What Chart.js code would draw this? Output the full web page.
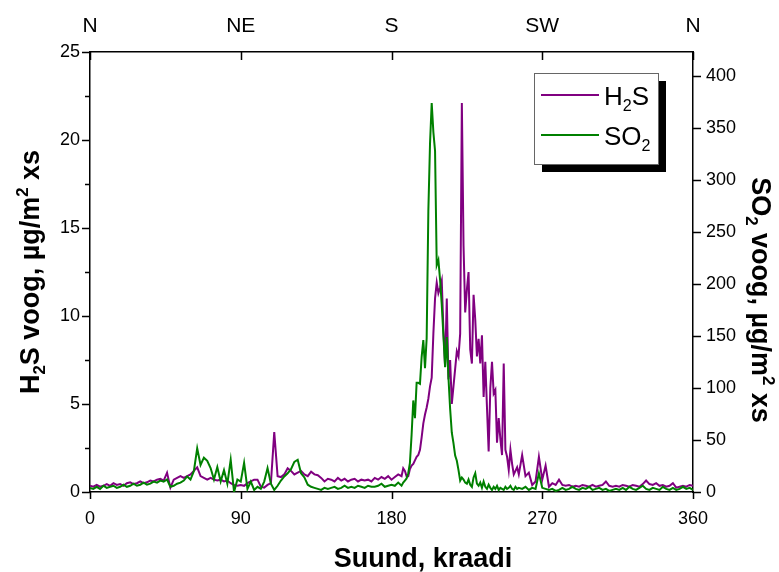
<!DOCTYPE html>
<html>
<head>
<meta charset="utf-8">
<script src="https://cdn.jsdelivr.net/npm/chart.js@4.4.1/dist/chart.umd.min.js"></script>
<style>
  html, body { margin: 0; padding: 0; background: #fff; }
  #wrap { width: 779px; height: 572px; }
</style>
</head>
<body>
<div id="wrap"><canvas id="chart" width="779" height="572"></canvas></div>
<script>
// wind direction, degrees (finer step around the peak)
const angles = [
  0, 2, 4, 6, 8, 10, 12, 14, 16, 18, 20, 22, 24, 26, 28, 30, 32, 34, 36, 38,
  40, 42, 44, 46, 48, 50, 52, 54, 56, 58, 60, 62, 64, 66, 68, 70, 72, 74, 76, 78,
  80, 82, 84, 86, 88, 90, 92, 94, 96, 98, 100, 102, 104, 106, 108, 110, 112, 114, 116, 118,
  120, 122, 124, 126, 128, 130, 132, 134, 136, 138, 140, 142, 144, 146, 148, 150, 152, 154, 156, 158,
  160, 162, 164, 166, 168, 170, 172, 174, 176, 178, 180, 182, 184,
  186, 187, 188, 189, 190, 191, 192, 193, 194, 195, 196, 197, 198, 199, 200, 201, 202, 203, 204, 205,
  206, 207, 208, 209, 210, 211, 212, 213, 214, 215, 216, 217, 218, 219, 220, 221, 222, 223, 224, 225,
  226, 227, 228, 229, 230, 231, 232, 233, 234, 235, 236, 237, 238, 239, 240, 241, 242, 243, 244, 245,
  246, 247, 248, 249, 250, 251, 252, 253, 254, 255, 256,
  258, 260, 262, 264, 266, 268, 270, 272, 274, 276, 278, 280, 282, 284, 286, 288, 290, 292, 294, 296,
  298, 300, 302, 304, 306, 308, 310, 312, 314, 316, 318, 320, 322, 324, 326, 328, 330, 332, 334, 336,
  338, 340, 342, 344, 346, 348, 350, 352, 354, 356, 358, 360
];

// H2S flux, ug/m2 s (left axis)
const h2sValues = [
  0.35, 0.3, 0.4, 0.3, 0.35, 0.45, 0.35, 0.5, 0.4, 0.45, 0.35, 0.5, 0.55, 0.45, 0.5, 0.6, 0.5, 0.55, 0.65, 0.6,
  0.7, 0.75, 0.65, 1.1, 0.25, 0.7, 0.8, 0.9, 0.8, 0.9, 1.0, 1.2, 1.4, 0.9, 0.8, 0.7, 0.8, 0.7, 0.65, 0.7,
  0.6, 0.65, 0.5, 0.4, 0.35, 0.4, 0.35, 0.5, 0.6, 0.7, 0.7, 0.3, 0.25, 0.4, 0.5, 3.4, 0.9, 0.85, 1.0, 1.35,
  1.2, 1.0, 1.1, 1.2, 1.0, 0.9, 1.15, 1.0, 0.95, 0.8, 0.6, 0.75, 0.7, 0.6, 0.8, 0.65, 0.75, 0.6, 0.7, 0.75,
  0.6, 0.7, 0.65, 0.7, 0.6, 0.8, 0.7, 0.85, 0.75, 0.9, 0.7, 0.85, 1.0,
  0.9, 1.35, 1.2, 0.9, 0.9, 1.3, 1.5, 1.6, 1.8, 2.0, 2.1, 2.4, 3.1, 3.9, 4.4, 4.8, 5.3, 6.0, 6.5, 9.0,
  11.0, 11.9, 11.3, 11.6, 12.0, 9.2, 7.1, 11.0, 6.4, 7.5, 5.0, 6.0, 7.0, 8.0, 7.7, 9.0, 22.1, 14.0, 10.2, 11.5,
  12.5, 8.1, 7.3, 11.2, 9.8, 7.7, 8.7, 7.3, 8.9, 5.4, 7.4, 4.8, 2.3, 5.9, 7.4, 5.6, 5.8, 2.8, 4.2, 3.0,
  2.1, 7.3, 2.4, 2.0, 1.25, 2.4, 1.6, 1.0, 1.2, 1.4, 1.0,
  2.1, 0.9, 1.1, 0.4, 0.6, 2.0, 0.7, 1.5, 0.3, 0.5, 0.4, 0.7, 0.4, 0.35, 0.4, 0.3, 0.35, 0.3, 0.4, 0.35,
  0.3, 0.4, 0.3, 0.35, 0.4, 0.6, 0.35, 0.3, 0.35, 0.3, 0.4, 0.35, 0.3, 0.4, 0.35, 0.3, 0.45, 0.65, 0.45, 0.4,
  0.5, 0.35, 0.4, 0.3, 0.35, 0.5, 0.25, 0.3, 0.35, 0.3, 0.4, 0.35
];

// SO2 flux, ug/m2 s (right axis)
const so2Values = [
  4, 3, 5, 3, 6, 4, 5, 6, 4, 5, 7, 5, 6, 8, 6, 7, 9, 7, 8, 10,
  9, 11, 10, 12, 5, 6, 8, 9, 11, 15, 12, 20, 42, 26, 33, 30, 23, 12, 24, 10,
  21, 8, 31, 0, 12, 10, 28, 3, 10, 2, 5, 3, 10, 23, 8, 2, 6, 11, 15, 18,
  22, 29, 31, 18, 14, 7, 5, 4, 3, 2, 4, 3, 4, 5, 3, 4, 6, 4, 5, 4,
  6, 5, 4, 6, 5, 5, 6, 8, 5, 6, 7, 6, 9,
  6, 9, 11, 13, 18, 28, 55, 88, 71, 105, 105, 104, 130, 146, 119, 148, 270, 335, 374, 346,
  328, 218, 223, 204, 180, 150, 120, 149, 110, 80, 57, 47, 35, 30, 21, 11, 14, 12, 9, 8,
  12, 7, 5, 14, 18, 8, 6, 9, 4, 10, 5, 3, 7, 4, 2, 5, 3, 6, 2, 4,
  3, 2, 5, 3, 4, 6, 3, 2, 5, 3, 4,
  3, 5, 2, 4, 3, 18, 4, 3, 2, 3, 1, 2, 4, 2, 3, 5, 3, 2, 4, 3,
  5, 2, 3, 4, 2, 3, 1, 2, 3, 2, 4, 2, 5, 3, 2, 4, 6, 3, 2, 4,
  3, 2, 5, 3, 2, 4, 2, 3, 5, 3, 4, 2
];

const angleTicks = [0, 90, 180, 270, 360];
const directionLabels = ['N', 'NE', 'S', 'SW', 'N'];
const h2sTicks = [0, 5, 10, 15, 20, 25];
const so2Ticks = [0, 50, 100, 150, 200, 250, 300, 350, 400];

const FONT = "'Liberation Sans', Arial, sans-serif";
const PURPLE = '#800080';
const GREEN = '#008000';

// draw text pieces with sub/superscripts, left to right starting at x
function richWidth(ctx, parts, size, weight) {
  let w = 0;
  parts.forEach(p => {
    const s = p.sub || p.sup ? size * 0.62 : size;
    ctx.font = `${weight} ${s}px ${FONT}`;
    w += ctx.measureText(p.t).width;
  });
  return w;
}
function drawRich(ctx, parts, x, y, size, weight) {
  parts.forEach(p => {
    const s = p.sub || p.sup ? size * 0.62 : size;
    ctx.font = `${weight} ${s}px ${FONT}`;
    let dy = 0;
    if (p.sub) dy = size * 0.22;
    if (p.sup) dy = -size * 0.4;
    ctx.fillText(p.t, x, y + dy);
    x += ctx.measureText(p.t).width;
  });
}

const decorPlugin = {
  id: 'decor',
  afterDraw(chart) {
    const ctx = chart.ctx;
    const area = chart.chartArea;
    const sx = chart.scales.x, sy = chart.scales.y, sy2 = chart.scales.y2;
    ctx.save();
    ctx.strokeStyle = '#000';
    ctx.lineWidth = 1.5;
    ctx.beginPath();
    angleTicks.forEach(v => {
      const px = Math.round(sx.getPixelForValue(v)) + 0.5;
      ctx.moveTo(px, area.bottom); ctx.lineTo(px, area.bottom + 7);
      ctx.moveTo(px, area.top); ctx.lineTo(px, area.top + 8);
    });
    for (let v = 0; v <= 25; v += 2.5) {
      const py = Math.round(sy.getPixelForValue(v)) + 0.5;
      const len = v % 5 === 0 ? 8 : 5;
      ctx.moveTo(area.left, py); ctx.lineTo(area.left - len, py);
    }
    so2Ticks.forEach(v => {
      const py = Math.round(sy2.getPixelForValue(v)) + 0.5;
      ctx.moveTo(area.right, py); ctx.lineTo(area.right + 8, py);
    });
    ctx.stroke();

    ctx.fillStyle = '#000';
    ctx.textBaseline = 'alphabetic';

    // bottom title
    ctx.font = `bold 27px ${FONT}`;
    ctx.textAlign = 'center';
    ctx.fillText('Suund, kraadi', 423, 567);
    ctx.textAlign = 'left';

    // left title
    const leftParts = [{t: 'H'}, {t: '2', sub: true}, {t: 'S voog, \u00b5g/m'}, {t: '2', sup: true}, {t: ' xs'}];
    ctx.save();
    ctx.translate(39, 272);
    ctx.rotate(-Math.PI / 2);
    drawRich(ctx, leftParts, -richWidth(ctx, leftParts, 27, 'bold') / 2, 0, 27, 'bold');
    ctx.restore();

    // right title
    const rightParts = [{t: 'SO'}, {t: '2', sub: true}, {t: ' voog, \u00b5g/m'}, {t: '2', sup: true}, {t: ' xs'}];
    ctx.save();
    ctx.translate(752, 300);
    ctx.rotate(Math.PI / 2);
    drawRich(ctx, rightParts, -richWidth(ctx, rightParts, 27, 'bold') / 2, 0, 27, 'bold');
    ctx.restore();

    // legend with drop shadow
    const bx = 534, by = 73, bw = 124, bh = 91;
    ctx.fillStyle = '#000';
    ctx.fillRect(bx + 8, by + 8, bw, bh);
    ctx.fillStyle = '#fff';
    ctx.fillRect(bx, by, bw, bh);
    ctx.strokeStyle = '#666';
    ctx.lineWidth = 1;
    ctx.strokeRect(bx + 0.5, by + 0.5, bw, bh);
    const rows = [
      {color: PURPLE, y: 95, parts: [{t: 'H'}, {t: '2', sub: true}, {t: 'S'}]},
      {color: GREEN, y: 135, parts: [{t: 'SO'}, {t: '2', sub: true}]}
    ];
    rows.forEach(r => {
      ctx.strokeStyle = r.color;
      ctx.lineWidth = 2;
      ctx.beginPath();
      ctx.moveTo(541, r.y); ctx.lineTo(599, r.y);
      ctx.stroke();
      ctx.fillStyle = '#000';
      drawRich(ctx, r.parts, 604, r.y + 10, 26, 'normal');
    });
    ctx.restore();
  }
};

const axisBase = {
  grid: { drawOnChartArea: false, drawTicks: false },
  border: { display: true, color: '#000', width: 1.5 }
};

new Chart(document.getElementById('chart'), {
  type: 'line',
  data: {
    datasets: [
      {
        label: 'H2S',
        data: angles.map((a, i) => ({ x: a, y: h2sValues[i] })),
        borderColor: PURPLE,
        borderWidth: 2,
        pointRadius: 0,
        tension: 0,
        yAxisID: 'y',
        order: 2
      },
      {
        label: 'SO2',
        data: angles.map((a, i) => ({ x: a, y: so2Values[i] })),
        borderColor: GREEN,
        borderWidth: 2,
        pointRadius: 0,
        tension: 0,
        yAxisID: 'y2',
        order: 1
      }
    ]
  },
  options: {
    responsive: false,
    animation: false,
    devicePixelRatio: 1,
    layout: { padding: 0 },
    plugins: { legend: { display: false }, tooltip: { enabled: false } },
    scales: {
      x: {
        ...axisBase,
        type: 'linear',
        position: 'bottom',
        min: 0, max: 360,
        afterBuildTicks: s => { s.ticks = angleTicks.map(v => ({ value: v })); },
        ticks: { color: '#000', font: { family: FONT, size: 18 }, padding: 16, maxRotation: 0 },
        afterFit: s => { s.height = 80; }
      },
      xTop: {
        ...axisBase,
        type: 'linear',
        position: 'top',
        min: 0, max: 360,
        afterBuildTicks: s => { s.ticks = angleTicks.map(v => ({ value: v })); },
        ticks: {
          color: '#000', font: { family: FONT, size: 21 }, padding: 13, maxRotation: 0,
          callback: (v, i) => directionLabels[i]
        },
        afterFit: s => { s.height = 52; }
      },
      y: {
        ...axisBase,
        type: 'linear',
        position: 'left',
        min: 0, max: 25,
        afterBuildTicks: s => { s.ticks = h2sTicks.map(v => ({ value: v })); },
        ticks: { color: '#000', font: { family: FONT, size: 18 }, padding: 10 },
        afterFit: s => { s.width = 90; }
      },
      y2: {
        ...axisBase,
        type: 'linear',
        position: 'right',
        min: 0, max: 423,
        afterBuildTicks: s => { s.ticks = so2Ticks.map(v => ({ value: v })); },
        ticks: { color: '#000', font: { family: FONT, size: 18 }, padding: 13 },
        afterFit: s => { s.width = 86; }
      }
    }
  },
  plugins: [decorPlugin]
});
</script>
</body>
</html>
